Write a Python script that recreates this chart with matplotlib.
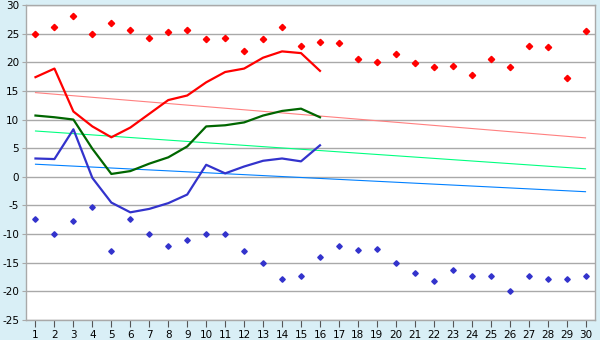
import matplotlib
matplotlib.use("Agg")
import matplotlib.pyplot as plt

plt.rcParams["axes.unicode_minus"] = False

# days of the month
days = list(range(1, 31))

# record highs / lows (scatter)
rec_high = [25.0, 26.1, 28.0, 25.0, 26.8, 25.6, 24.3, 25.3, 25.7, 24.0,
            24.3, 22.0, 24.0, 26.1, 22.9, 23.6, 23.3, 20.6, 20.1, 21.5,
            19.9, 19.1, 19.4, 17.8, 20.5, 19.1, 22.9, 22.7, 17.3, 25.4]
rec_low = [-7.3, -10.0, -7.8, -5.2, -13.0, -7.3, -10.0, -12.1, -11.0, -10.0,
           -10.0, -13.0, -15.0, -17.8, -17.3, -14.0, -12.1, -12.8, -12.6, -15.0,
           -16.8, -18.2, -16.2, -17.3, -17.3, -20.0, -17.3, -17.8, -17.8, -17.3]

# observed values for the first 16 days
obs_days = days[:16]
obs_max = [17.4, 18.9, 11.4, 8.8, 6.9, 8.6, 11.0, 13.4, 14.2, 16.5,
           18.3, 18.9, 20.8, 21.9, 21.6, 18.5]
obs_mean = [10.7, 10.4, 10.0, 4.9, 0.5, 1.0, 2.3, 3.4, 5.3, 8.8,
            9.0, 9.5, 10.7, 11.5, 11.9, 10.4]
obs_min = [3.2, 3.1, 8.3, -0.2, -4.5, -6.2, -5.6, -4.6, -3.1, 2.1,
           0.6, 1.8, 2.8, 3.2, 2.7, 5.5]

# normal (trend) lines: value on day 1 and day 30
norm_days = [1, 30]
norm_max = [14.7, 6.8]
norm_mean = [8.0, 1.4]
norm_min = [2.2, -2.6]

bg = "#D9EFF6"
grid_col = "#A9A9A9"

fig = plt.figure(figsize=(6, 3.4), dpi=100, facecolor=bg)
ax = fig.add_axes([26 / 600, 20 / 340, 569 / 600, 315 / 340])
ax.set_facecolor("white")

# trend lines
ax.plot(norm_days, norm_max, color="#FF8080", lw=0.8, zorder=2)
ax.plot(norm_days, norm_mean, color="#00FF80", lw=0.8, zorder=2)
ax.plot(norm_days, norm_min, color="#0080FF", lw=0.8, zorder=2)

# observed lines
ax.plot(obs_days, obs_max, color="#FF0000", lw=1.6, zorder=3)
ax.plot(obs_days, obs_mean, color="#006600", lw=1.6, zorder=3)
ax.plot(obs_days, obs_min, color="#3333CC", lw=1.6, zorder=3)

# records
ax.plot(days, rec_high, ls="none", marker="D", ms=3.2, color="#FF0000", zorder=4)
ax.plot(days, rec_low, ls="none", marker="D", ms=2.8, color="#3333CC", zorder=4)

ax.set_xlim(0.5, 30.5)
ax.set_ylim(-25, 30)
ax.set_xticks(days)
ax.set_yticks(range(-25, 31, 5))
ax.yaxis.grid(True, color=grid_col, lw=1)
ax.set_axisbelow(True)

for side in ["left", "bottom", "top", "right"]:
    ax.spines[side].set_color(grid_col)
    ax.spines[side].set_linewidth(1)

ax.tick_params(axis="x", direction="out", length=5, color="#555555",
               labelsize=7.5, pad=2)
ax.tick_params(axis="y", direction="out", length=3, color=grid_col,
               labelsize=7.5, pad=2)

fig.savefig("out.png", dpi=100, facecolor=bg)
